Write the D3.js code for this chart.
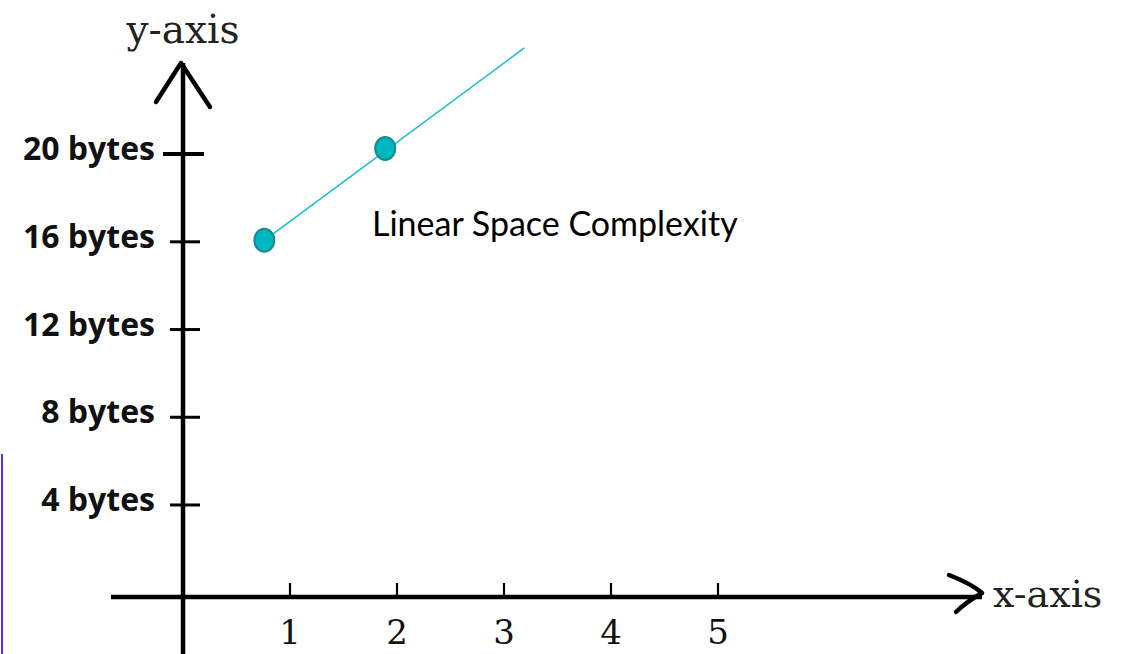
<!DOCTYPE html>
<html>
<head>
<meta charset="utf-8">
<script src="https://cdn.jsdelivr.net/npm/d3@7"></script>
<style>
  html, body { margin: 0; padding: 0; background: #fff; }
  svg { display: block; }
</style>
</head>
<body>
<svg id="chart" width="1130" height="654"></svg>
<script>
// ---- data ----
const yTickValues = [4, 8, 12, 16, 20];
const yTickLabels = ["4 bytes", "8 bytes", "12 bytes", "16 bytes", "20 bytes"];
const xTickValues = [1, 2, 3, 4, 5];
const xTickLabels = ["1", "2", "3", "4", "5"];
const pointX = [0.76, 1.89];
const pointY = [16.07, 20.26];
const lineX = [0.76, 3.19];
const lineY = [16.07, 24.84];
const xAxisTitle = "x-axis";
const yAxisTitle = "y-axis";
const annotation = "Linear Space Complexity";

// ---- layout ----
const W = 1130, H = 654;
const svg = d3.select("#chart");
svg.append("rect").attr("width", W).attr("height", H).attr("fill", "#fff");

const x = d3.scaleLinear().domain([0, 5]).range([183, 718]);
const y = d3.scaleLinear().domain([0, 20]).range([592.7, 154.1]);
const axisYpos = 597;           // horizontal axis position
const originX = x(0);

// stray left border line (decoration from source)
svg.append("line")
  .attr("x1", 2).attr("x2", 2).attr("y1", 454).attr("y2", H)
  .attr("stroke", "#5530f5").attr("stroke-width", 2);

// y axis line
svg.append("line")
  .attr("x1", originX).attr("x2", originX)
  .attr("y1", 63).attr("y2", H + 5)
  .attr("stroke", "#000").attr("stroke-width", 4.5);

// y arrow head
svg.append("path")
  .attr("d", `M${originX - 27},102 L${originX - 2},63 L${originX + 27},107`)
  .attr("fill", "none").attr("stroke", "#000").attr("stroke-width", 4.5)
  .attr("stroke-linecap", "round").attr("stroke-linejoin", "round");

// x axis line
svg.append("line")
  .attr("x1", 111).attr("x2", 982)
  .attr("y1", axisYpos).attr("y2", axisYpos)
  .attr("stroke", "#000").attr("stroke-width", 4.5);

// x arrow head
svg.append("path")
  .attr("d", `M949,575 Q972,584 982,593 Q966,602 956,612`)
  .attr("fill", "none").attr("stroke", "#000").attr("stroke-width", 4.5)
  .attr("stroke-linecap", "round").attr("stroke-linejoin", "round");

// y ticks (crossing the axis)
const yt = svg.append("g");
yt.selectAll("line").data(yTickValues).join("line")
  .attr("x1", d => d === 20 ? originX - 20 : originX - 13)
  .attr("x2", d => d === 20 ? originX + 21 : originX + 17)
  .attr("y1", d => y(d)).attr("y2", d => y(d))
  .attr("stroke", "#000").attr("stroke-width", d => d === 20 ? 4 : 3);

yt.selectAll("text").data(yTickValues).join("text")
  .attr("x", 155)
  .attr("y", d => y(d) + 6)
  .attr("text-anchor", "end")
  .attr("font-family", "'Open Sans', 'Noto Sans', sans-serif")
  .attr("font-weight", "bold")
  .attr("font-size", 32)
  .attr("fill", "#111")
  .text((d, i) => yTickLabels[i]);

// x ticks (small upward ticks)
const xt = svg.append("g");
xt.selectAll("line").data(xTickValues).join("line")
  .attr("x1", d => x(d)).attr("x2", d => x(d))
  .attr("y1", axisYpos - 14).attr("y2", axisYpos)
  .attr("stroke", "#000").attr("stroke-width", 2.2);

xt.selectAll("text").data(xTickValues).join("text")
  .attr("x", d => x(d))
  .attr("y", 644)
  .attr("text-anchor", "middle")
  .attr("font-family", "'DejaVu Serif', serif")
  .attr("font-size", 34)
  .attr("fill", "#111")
  .text((d, i) => xTickLabels[i]);

// axis titles
svg.append("text")
  .attr("x", originX).attr("y", 43)
  .attr("text-anchor", "middle")
  .attr("font-family", "'DejaVu Serif', serif")
  .attr("font-size", 39)
  .attr("fill", "#222")
  .text(yAxisTitle);

svg.append("text")
  .attr("x", 993).attr("y", 607)
  .attr("font-family", "'DejaVu Serif', serif")
  .attr("font-size", 38)
  .attr("fill", "#222")
  .text(xAxisTitle);

// teal line
const lineData = lineX.map((v, i) => [v, lineY[i]]);
svg.append("path")
  .datum(lineData)
  .attr("d", d3.line().x(d => x(d[0])).y(d => y(d[1])))
  .attr("fill", "none")
  .attr("stroke", "#12bfcc")
  .attr("stroke-width", 1.5);

// points
svg.append("g").selectAll("ellipse")
  .data(pointX.map((v, i) => [v, pointY[i]]))
  .join("ellipse")
  .attr("cx", d => x(d[0])).attr("cy", d => y(d[1]))
  .attr("rx", 10).attr("ry", 11.5)
  .attr("fill", "#00b6c1")
  .attr("stroke", "#1a8a92")
  .attr("stroke-width", 2);

// annotation
svg.append("text")
  .attr("x", 372).attr("y", 236)
  .attr("font-family", "Lato, 'Open Sans', sans-serif")
  .attr("font-size", 34)
  .attr("fill", "#000")
  .text(annotation);
</script>
</body>
</html>
